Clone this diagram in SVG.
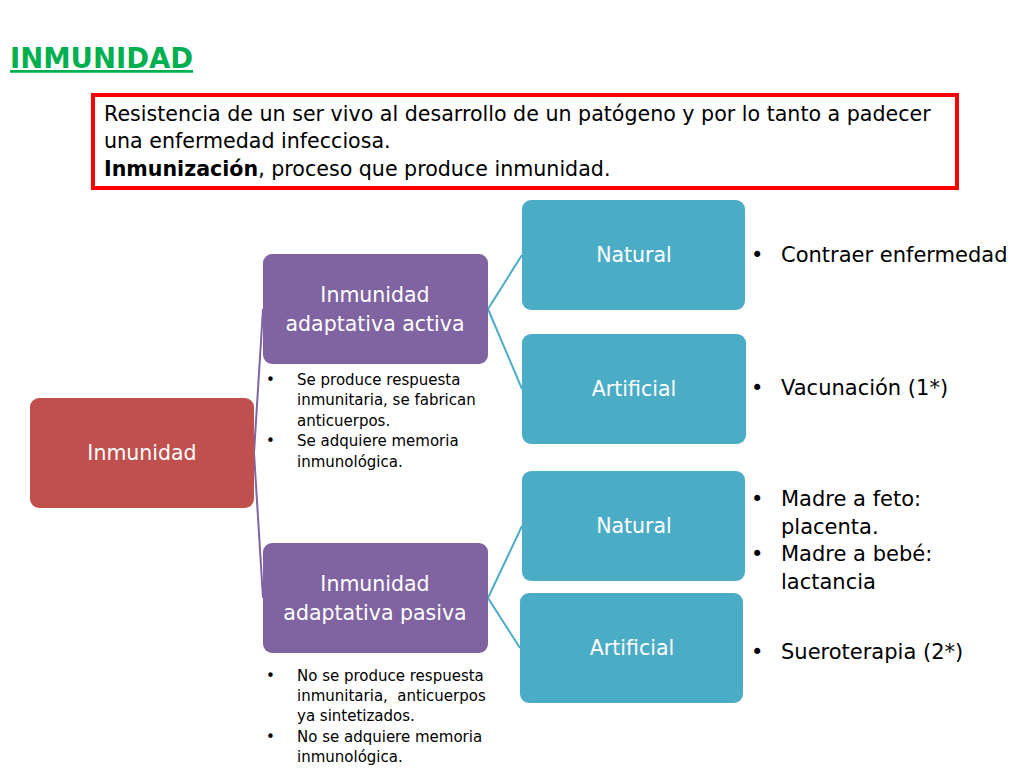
<svg xmlns="http://www.w3.org/2000/svg" width="1024" height="768" viewBox="0 0 1024 768">
<style>
text{font-family:"DejaVu Sans","Liberation Sans",sans-serif}
.w{fill:#fff;font-size:20.5px;text-anchor:middle}
.s{fill:#000;font-size:15px}
.b{fill:#000;font-size:21px}
.red{fill:#C0504D}
.pur{fill:#8064A2}
.teal{fill:#4BACC6}
.lp{stroke:#8064A2;stroke-width:2;fill:none}
.lt{stroke:#4BACC6;stroke-width:2;fill:none}
</style>
<rect width="1024" height="768" fill="#fff"/>
<g id="title">
<text x="10" y="68" font-size="27.5" font-weight="bold" fill="#00B050" text-decoration="underline">INMUNIDAD</text>
</g>
<g id="definition">
<rect x="93" y="95" width="864" height="93" fill="#fff" stroke="#FF0000" stroke-width="4"/>
<text x="104" y="121" font-size="20.6" fill="#000">Resistencia de un ser vivo al desarrollo de un patógeno y por lo tanto a padecer</text>
<text x="104" y="148" font-size="20.6" fill="#000">una enfermedad infecciosa.</text>
<text x="104" y="176" font-size="20.6" fill="#000"><tspan font-weight="bold">Inmunización</tspan>, proceso que produce inmunidad.</text>
</g>
<g id="connectors">
<path class="lp" d="M254,453 L263,309 M254,453 L263,598"/>
<path class="lt" d="M488,309 L522,255 M488,309 L522,389 M488,598 L522,526 M488,598 L520,648"/>
</g>
<g id="n-inmunidad">
<rect class="red" x="30" y="398" width="224" height="110" rx="9"/>
<text class="w" x="142" y="460">Inmunidad</text>
</g>
<g id="n-activa">
<rect class="pur" x="263" y="254" width="225" height="110" rx="9"/>
<text class="w" x="375" y="302">Inmunidad</text>
<text class="w" x="375" y="331">adaptativa activa</text>
</g>
<g id="n-activa-notes">
<text class="s" x="266" y="385">•</text><text class="s" x="297" y="385">Se produce respuesta</text>
<text class="s" x="297" y="405">inmunitaria, se fabrican</text>
<text class="s" x="297" y="426">anticuerpos.</text>
<text class="s" x="266" y="446">•</text><text class="s" x="297" y="446">Se adquiere memoria</text>
<text class="s" x="297" y="467">inmunológica.</text>
</g>
<g id="n-pasiva">
<rect class="pur" x="263" y="543" width="225" height="110" rx="9"/>
<text class="w" x="375" y="591">Inmunidad</text>
<text class="w" x="375" y="620">adaptativa pasiva</text>
</g>
<g id="n-pasiva-notes">
<text class="s" x="266" y="681">•</text><text class="s" x="297" y="681">No se produce respuesta</text>
<text class="s" x="297" y="701" xml:space="preserve">inmunitaria,  anticuerpos</text>
<text class="s" x="297" y="721">ya sintetizados.</text>
<text class="s" x="266" y="742">•</text><text class="s" x="297" y="742">No se adquiere memoria</text>
<text class="s" x="297" y="762">inmunológica.</text>
</g>
<g id="n-natural1">
<rect class="teal" x="522" y="200" width="223" height="110" rx="9"/>
<text class="w" x="634" y="262">Natural</text>
</g>
<g id="n-artificial1">
<rect class="teal" x="522" y="334" width="224" height="110" rx="9"/>
<text class="w" x="634" y="396">Artificial</text>
</g>
<g id="n-natural2">
<rect class="teal" x="522" y="471" width="223" height="110" rx="9"/>
<text class="w" x="634" y="533">Natural</text>
</g>
<g id="n-artificial2">
<rect class="teal" x="520" y="593" width="223" height="110" rx="9"/>
<text class="w" x="632" y="655">Artificial</text>
</g>
<g id="notes-right">
<text class="b" x="751" y="262">•</text><text class="b" x="781" y="262">Contraer enfermedad</text>
<text class="b" x="751" y="395">•</text><text class="b" x="781" y="395">Vacunación (1*)</text>
<text class="b" x="751" y="506">•</text><text class="b" x="781" y="506">Madre a feto:</text>
<text class="b" x="781" y="534">placenta.</text>
<text class="b" x="751" y="561">•</text><text class="b" x="781" y="561">Madre a bebé:</text>
<text class="b" x="781" y="589">lactancia</text>
<text class="b" x="751" y="659">•</text><text class="b" x="781" y="659">Sueroterapia (2*)</text>
</g>
</svg>
